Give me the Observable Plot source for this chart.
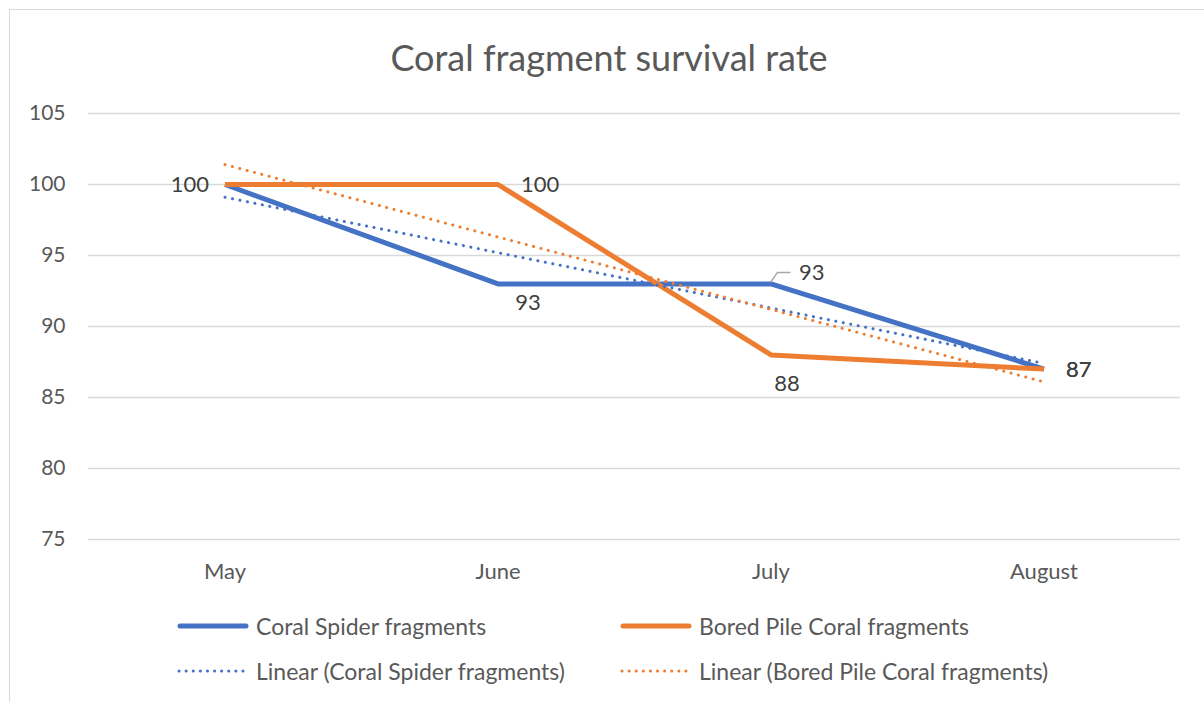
<!DOCTYPE html>
<html>
<head>
<meta charset="utf-8">
<script src="https://cdn.jsdelivr.net/npm/d3@7"></script>
<script src="https://cdn.jsdelivr.net/npm/@observablehq/plot@0.6"></script>
<style>
  html, body { margin: 0; padding: 0; background: #fff; overflow: hidden; }
  body { width: 1204px; height: 702px; position: relative; font-family: Lato, "Open Sans", sans-serif; }
  #frame { position: absolute; left: 9px; top: 9px; width: 1400px; height: 900px; border: 1.5px solid #d9d9d9; box-sizing: border-box; }
  #title { position: absolute; left: 0; width: 1218px; top: 35px; text-align: center; font-size: 36px; color: #595959; line-height: 44px; }
  #chart { position: absolute; left: 0; top: 90px; }
  .leg { position: absolute; display: flex; align-items: center; font-size: 23px; color: #595959; white-space: nowrap; }
  .leg svg { margin-right: 7px; }
</style>
</head>
<body>
<div id="frame"></div>
<div id="title">Coral fragment survival rate</div>
<div id="chart"></div>
<div id="legend"></div>
<script>
// ---- data ----
const months = ["May", "June", "July", "August"];
const seriesNames = ["Coral Spider fragments", "Bored Pile Coral fragments"];
const spiderValues = [100, 93, 93, 87];
const boredValues = [100, 100, 88, 87];
const yTicks = [75, 80, 85, 90, 95, 100, 105];

const colors = ["#4472C4", "#ED7D31"];

const rows = [];
months.forEach((m, i) => rows.push({i, month: m, value: spiderValues[i], series: seriesNames[0]}));
months.forEach((m, i) => rows.push({i, month: m, value: boredValues[i], series: seriesNames[1]}));

// label placements (styling offsets)
const labelSpecs = [
  {s: 0, i: 0, anchor: "end",    dx: -16, dy: 0},
  {s: 0, i: 1, anchor: "middle", dx: 30,  dy: 19},
  {s: 0, i: 2, anchor: "start",  dx: 28,  dy: -11},
  {s: 0, i: 3, anchor: "start",  dx: 22,  dy: 1},
  {s: 1, i: 1, anchor: "start",  dx: 23,  dy: 0},
  {s: 1, i: 2, anchor: "middle", dx: 16,  dy: 29},
  {s: 1, i: 3, anchor: "start",  dx: 22,  dy: 1}
];

const labelMarks = labelSpecs.map(sp =>
  Plot.text(rows.filter(r => r.series === seriesNames[sp.s] && r.i === sp.i), {
    x: "i", y: "value", text: d => String(d.value),
    textAnchor: sp.anchor, dx: sp.dx, dy: sp.dy,
    fontSize: 22, fill: "#404040"
  })
);

// leader line for July spider label
function leader(...args) {
  const scales = args.find(a => a && typeof a.x === "function" && typeof a.y === "function");
  if (!scales) return null;
  const px = scales.x(2), py = scales.y(spiderValues[2]);
  const ns = "http://www.w3.org/2000/svg";
  const p = document.createElementNS(ns, "path");
  p.setAttribute("d", `M${px},${py - 1}L${px + 7},${py - 11}L${px + 20},${py - 11}`);
  p.setAttribute("fill", "none");
  p.setAttribute("stroke", "#a6a6a6");
  p.setAttribute("stroke-width", "1.5");
  return p;
}

const chart = Plot.plot({
  width: 1204,
  height: 505,
  marginTop: 23,
  marginBottom: 56,
  marginLeft: 88,
  marginRight: 24,
  style: {fontFamily: "Lato, 'Open Sans', sans-serif", background: "transparent", overflow: "visible"},
  x: {type: "linear", domain: [-0.5, 3.5]},
  y: {domain: [75, 105]},
  color: {domain: seriesNames, range: colors},
  marks: [
    Plot.gridY(yTicks, {stroke: "#d9d9d9", strokeOpacity: 1, strokeWidth: 1.5}),
    Plot.axisY(yTicks, {tickSize: 0, tickPadding: 23, fontSize: 21, fill: "#595959", label: null}),
    Plot.axisX([0, 1, 2, 3], {tickSize: 0, tickPadding: 24, fontSize: 22, fill: "#595959", label: null, tickFormat: i => months[i]}),
    Plot.line(rows, {x: "i", y: "value", z: "series", stroke: "series", strokeWidth: 5, strokeLinejoin: "round", strokeLinecap: "butt"}),
    Plot.linearRegressionY(rows, {x: "i", y: "value", z: "series", stroke: "series", ci: 0, strokeWidth: 3, strokeDasharray: "0.1 7.5", strokeLinecap: "round"}),
    leader,
    ...labelMarks
  ]
});
document.getElementById("chart").appendChild(chart);

// ---- legend ----
const legendItems = [
  {name: seriesNames[0], color: colors[0], dotted: false, left: 177, top: 626},
  {name: seriesNames[1], color: colors[1], dotted: false, left: 620, top: 626},
  {name: "Linear (" + seriesNames[0] + ")", color: colors[0], dotted: true, left: 177, top: 671},
  {name: "Linear (" + seriesNames[1] + ")", color: colors[1], dotted: true, left: 620, top: 671}
];
const legend = document.getElementById("legend");
legendItems.forEach(it => {
  const div = document.createElement("div");
  div.className = "leg";
  div.style.left = it.left + "px";
  div.style.top = (it.top - 15) + "px";
  div.style.height = "30px";
  const sw = it.dotted
    ? `<svg width="72" height="10"><line x1="2" y1="5" x2="70" y2="5" stroke="${it.color}" stroke-width="3" stroke-linecap="round" stroke-dasharray="0.1 7"/></svg>`
    : `<svg width="72" height="10"><line x1="3" y1="5" x2="69" y2="5" stroke="${it.color}" stroke-width="5" stroke-linecap="round"/></svg>`;
  div.innerHTML = sw + `<span>${it.name}</span>`;
  legend.appendChild(div);
});
</script>
</body>
</html>
